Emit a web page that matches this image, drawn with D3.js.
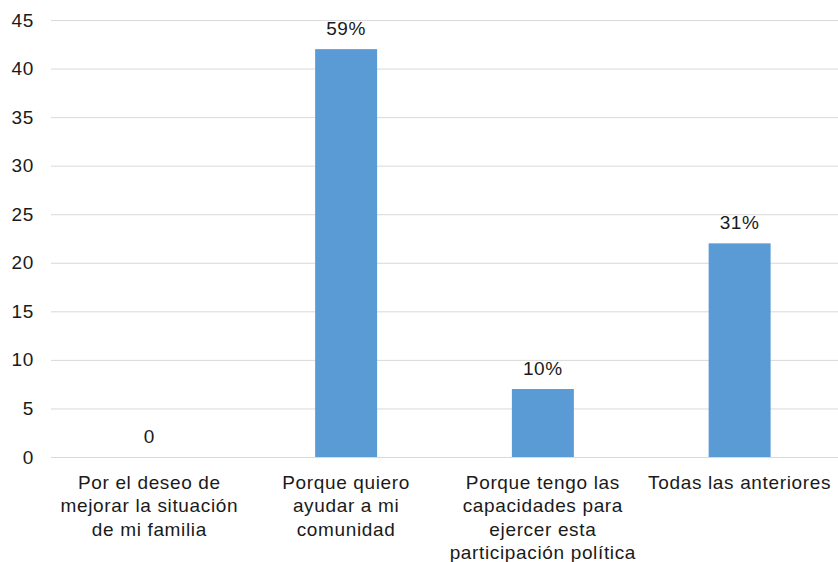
<!DOCTYPE html>
<html><head><meta charset="utf-8">
<script src="https://cdn.jsdelivr.net/npm/d3@7"></script>
<style>body{margin:0;background:#fff}svg{display:block}</style>
</head><body>
<script>
const categories = [
  ["Por el deseo de","mejorar la situación","de mi familia"],
  ["Porque quiero","ayudar a mi","comunidad"],
  ["Porque tengo las","capacidades para","ejercer esta","participación política"],
  ["Todas las anteriores"]
];
const values = [0, 42, 7, 22];
const labels = ["0", "59%", "10%", "31%"];
const yTicks = [0,5,10,15,20,25,30,35,40,45];

(function(){
const W = 838, H = 562;
const mLeft = 51, mRight = 838, mTop = 20, mBottom = 457;
const svg = d3.select("body").append("svg").attr("width", W).attr("height", H)
  .style("font-family", "'Liberation Sans', Arial, sans-serif")
  .style("letter-spacing", "0.65px");

const y = d3.scaleLinear().domain([0,45]).range([mBottom, mTop]);
const x = d3.scaleBand().domain(d3.range(categories.length)).range([mLeft, mRight])
  .paddingInner(0.685).paddingOuter(0.3425);

const yAxis = svg.append("g").attr("transform", `translate(${mLeft},0)`)
  .call(d3.axisLeft(y).tickValues(yTicks).tickSize(-(mRight-mLeft)).tickPadding(17));
yAxis.select(".domain").remove();
yAxis.selectAll(".tick line").attr("stroke", "#d9d9d9").attr("stroke-width", 1);
yAxis.selectAll(".tick text").attr("fill", "#1a1a1a").style("font-size", "19px");

svg.append("g").selectAll("rect").data(values).join("rect")
  .attr("x", (d,i) => x(i)).attr("width", x.bandwidth())
  .attr("y", d => y(d)).attr("height", d => y(0) - y(d))
  .attr("fill", "#5B9BD5");

svg.append("g").selectAll("text").data(values).join("text")
  .attr("x", (d,i) => x(i) + x.bandwidth()/2)
  .attr("y", d => y(d) - 21)
  .attr("dy", "0.35em")
  .attr("text-anchor", "middle").attr("fill", "#1a1a1a").style("font-size", "19px")
  .text((d,i) => labels[i]);

const cat = svg.append("g").selectAll("text").data(categories).join("text")
  .attr("x", (d,i) => x(i) + x.bandwidth()/2)
  .attr("y", 482)
  .attr("text-anchor", "middle").attr("fill", "#1a1a1a").style("font-size", "19px");
cat.selectAll("tspan").data(d => d).join("tspan")
  .attr("x", function(){ return d3.select(this.parentNode).attr("x"); })
  .attr("dy", (d,j) => j === 0 ? "0.35em" : "23.5px")
  .text(d => d);
})();
</script>
</body></html>
